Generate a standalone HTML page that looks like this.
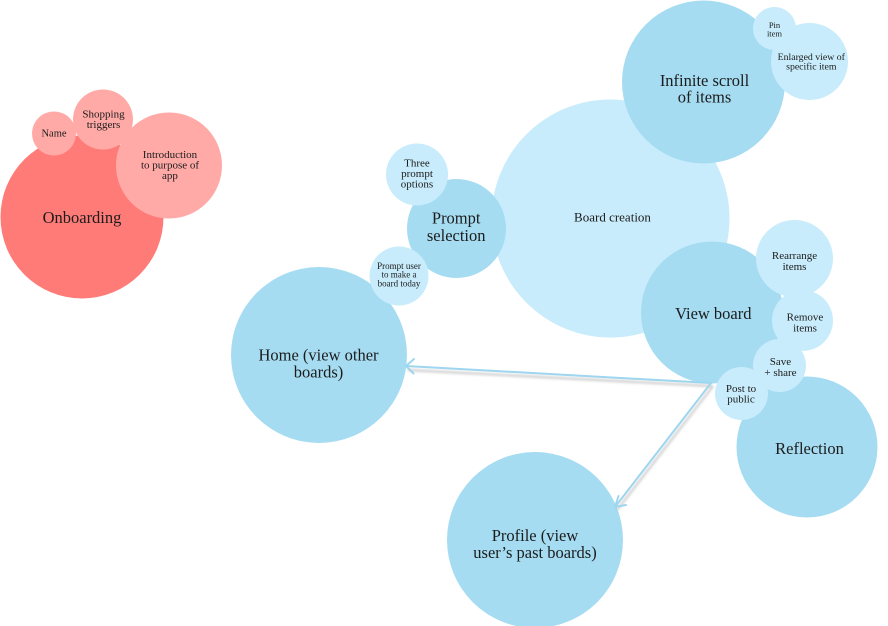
<!DOCTYPE html>
<html>
<head>
<meta charset="utf-8">
<style>
  html, body { margin:0; padding:0; background:#ffffff; }
  body { width:888px; height:626px; overflow:hidden; }
  svg { display:block; }
  text { font-family:"Liberation Serif", "DejaVu Serif", serif; fill:#1c1c1c; text-anchor:middle; }
  .big { font-size:16.5px; }
  .mid { font-size:13px; }
  .sm { font-size:11px; }
  .xs { font-size:9.3px; }
</style>
</head>
<body>
<svg width="888" height="626" viewBox="0 0 888 626" xmlns="http://www.w3.org/2000/svg">
  <defs>
    <filter id="sh" x="-10%" y="-50%" width="120%" height="200%">
      <feGaussianBlur stdDeviation="1.4"/>
    </filter>
  </defs>

  <!-- Onboarding cluster -->
  <circle cx="82" cy="217" r="81.5" fill="#FF7B77"/>
  <circle cx="169" cy="165.5" r="53" fill="#FFAAA7"/>
  <circle cx="103" cy="119.5" r="30" fill="#FFAAA7"/>
  <circle cx="54" cy="133.5" r="22" fill="#FFAAA7"/>

  <!-- Blue cluster -->
  <circle cx="610.5" cy="218.5" r="119" fill="#C8ECFB"/>
  <circle cx="703.5" cy="82" r="81.5" fill="#A5DCF2"/>
  <circle cx="456.5" cy="228.5" r="49.5" fill="#A5DCF2"/>
  <circle cx="319" cy="355" r="88" fill="#A5DCF2"/>
  <circle cx="712" cy="312.5" r="71" fill="#A5DCF2"/>
  <circle cx="807" cy="447" r="70.5" fill="#A5DCF2"/>
  <circle cx="535" cy="540" r="88" fill="#A5DCF2"/>

  <!-- connectors -->
  <g filter="url(#sh)" stroke="#bdbdbd" stroke-width="2.2" fill="none" opacity="0.8">
    <line x1="712" y1="386" x2="408" y2="370"/>
    <line x1="713" y1="386" x2="617" y2="510"/>
  </g>
  <g stroke="#9ED6EF" stroke-width="2" fill="none" stroke-linecap="round" stroke-linejoin="round">
    <line x1="711" y1="383" x2="406" y2="366"/>
    <polyline points="414,359 406,366 413.5,373.5"/>
    <line x1="711" y1="383" x2="615" y2="507"/>
    <polyline points="618.5,496 615,507 626,505"/>
  </g>

  <!-- light satellites -->
  <circle cx="774.5" cy="28.5" r="21.5" fill="#C8ECFB"/>
  <circle cx="809.5" cy="61.5" r="38.5" fill="#C8ECFB"/>
  <circle cx="417" cy="174.5" r="31" fill="#C8ECFB"/>
  <circle cx="399" cy="276" r="29.5" fill="#C8ECFB"/>
  <circle cx="794.5" cy="258.5" r="38.5" fill="#C8ECFB"/>
  <circle cx="802.5" cy="320.5" r="30.5" fill="#C8ECFB"/>
  <circle cx="779.5" cy="365.5" r="26.5" fill="#C8ECFB"/>
  <circle cx="741.5" cy="393.5" r="26.5" fill="#C8ECFB"/>

  <!-- labels -->
  <text class="big" x="82" y="223">Onboarding</text>
  <text class="sm" x="170" y="158">Introduction</text>
  <text class="sm" x="170" y="168.5">to purpose of</text>
  <text class="sm" x="170" y="179">app</text>
  <text class="sm" x="103.5" y="117.5">Shopping</text>
  <text class="sm" x="103.5" y="128">triggers</text>
  <text class="sm" x="54" y="136.5" style="font-size:10.5px">Name</text>

  <text class="big" x="704.5" y="86">Infinite scroll</text>
  <text class="big" x="704.5" y="102.5">of items</text>
  <text class="xs" x="774.5" y="28" style="font-size:8.5px">Pin</text>
  <text class="xs" x="774.5" y="36.5" style="font-size:8.5px">item</text>
  <text class="xs" x="811.3" y="60" style="font-size:9.8px">Enlarged view of</text>
  <text class="xs" x="811.3" y="69.5" style="font-size:9.8px">specific item</text>

  <text class="mid" x="612.5" y="221.5">Board creation</text>

  <text class="sm" x="417" y="166.5">Three</text>
  <text class="sm" x="417" y="177">prompt</text>
  <text class="sm" x="417" y="187.5">options</text>
  <text class="big" x="456.2" y="223.5">Prompt</text>
  <text class="big" x="456.2" y="241">selection</text>
  <text class="xs" x="399" y="269" style="font-size:9px">Prompt user</text>
  <text class="xs" x="399" y="277.7" style="font-size:9px">to make a</text>
  <text class="xs" x="399" y="286.4" style="font-size:9px">board today</text>

  <text class="big" x="318.5" y="360.5">Home (view other</text>
  <text class="big" x="318.5" y="377.5">boards)</text>

  <text class="big" x="713.3" y="319">View board</text>
  <text class="sm" x="794.5" y="259">Rearrange</text>
  <text class="sm" x="794.5" y="270">items</text>
  <text class="sm" x="805" y="320.5">Remove</text>
  <text class="sm" x="805" y="331.5">items</text>
  <text class="sm" x="780.5" y="365">Save</text>
  <text class="sm" x="780.5" y="376">+ share</text>
  <text class="sm" x="741" y="392">Post to</text>
  <text class="sm" x="741" y="402.5">public</text>

  <text class="big" x="809.5" y="454">Reflection</text>

  <text class="big" x="535" y="541">Profile (view</text>
  <text class="big" x="535" y="558">user’s past boards)</text>
</svg>
</body>
</html>
